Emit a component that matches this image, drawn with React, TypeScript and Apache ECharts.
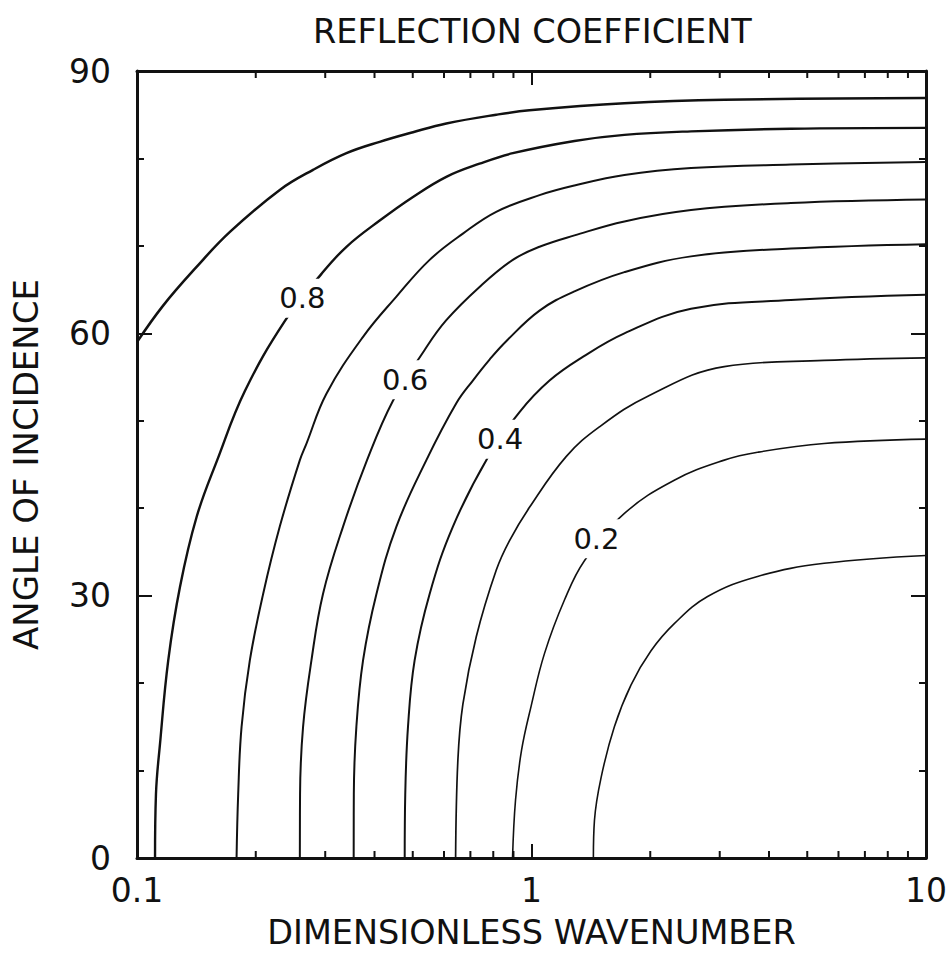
import { useEffect, useRef } from 'react';
import * as echarts from 'echarts';

// Contour levels of the reflection coefficient, each traced as [wavenumber, angle (deg)]
const levels = ['0.9', '0.8', '0.7', '0.6', '0.5', '0.4', '0.3', '0.2', '0.1'];

const r09: [number, number][] = [
  [0.1, 59.0], [0.1166, 63.2], [0.1416, 67.6], [0.172, 71.6], [0.2301, 76.4], [0.2795, 78.7],
  [0.3396, 80.6], [0.4123, 81.9], [0.5007, 83.0], [0.6082, 84.0], [0.814, 85.0], [0.988, 85.5],
  [1.72, 86.3], [3.081, 86.7], [10, 86.9],
];
const r08: [number, number][] = [
  [0.1111, 0], [0.1117, 7.3], [0.1144, 13.1], [0.12, 22.6], [0.1285, 31.0], [0.1416, 39.0],
  [0.1597, 45.5], [0.1877, 53.4], [0.2369, 61.4], [0.2935, 66.8], [0.3396, 69.9], [0.4123, 72.9],
  [0.5007, 75.6], [0.6082, 77.9], [0.7384, 79.4], [0.8967, 80.6], [1.285, 82.0], [1.72, 82.7],
  [2.537, 83.1], [4.545, 83.4], [10, 83.5],
];
const r07: [number, number][] = [
  [0.1788, 0], [0.1805, 7.3], [0.1841, 15.0], [0.1932, 22.6], [0.2088, 30.2], [0.2301, 37.9],
  [0.2587, 45.5], [0.2689, 47.4], [0.3021, 53.1], [0.3741, 59.6], [0.4545, 64.2], [0.5518, 68.4],
  [0.67, 71.4], [0.8138, 73.9], [1.048, 75.8], [1.285, 76.9], [1.72, 78.1], [2.537, 78.9],
  [4.545, 79.3], [10, 79.6],
];
const r06: [number, number][] = [
  [0.2587, 0], [0.259, 7.3], [0.2636, 15.0], [0.2768, 22.6], [0.2961, 30.2], [0.3329, 37.9],
  [0.3829, 45.5], [0.4455, 52.3], [0.5359, 58.1], [0.6082, 61.5], [0.7384, 65.3], [0.8967, 68.4],
  [1.048, 69.9], [1.285, 71.2], [1.72, 72.8], [2.537, 74.1], [4.545, 74.9], [10, 75.3],
];
const r05: [number, number][] = [
  [0.3542, 0], [0.3545, 7.3], [0.3598, 15.0], [0.3741, 22.6], [0.4045, 30.2], [0.4545, 37.9],
  [0.5414, 45.5], [0.6447, 52.0], [0.7101, 54.6], [0.7829, 57.0], [0.8628, 59.1], [1.048, 62.6],
  [1.285, 64.8], [1.72, 67.0], [2.537, 68.8], [4.545, 69.7], [10, 70.2],
];
const r04: [number, number][] = [
  [0.4771, 0], [0.4786, 7.3], [0.4863, 15.0], [0.5055, 22.6], [0.5518, 30.2], [0.6321, 37.9],
  [0.775, 45.8], [0.9325, 51.0], [1.111, 54.6], [1.349, 57.3], [1.72, 60.0],
  [2.537, 62.8], [4.545, 63.8], [10, 64.4],
];
const r03: [number, number][] = [
  [0.6421, 0], [0.6507, 11.2], [0.67, 17.6], [0.7244, 25.3], [0.8138, 32.9], [0.8797, 36.3],
  [0.9884, 40.1], [1.224, 45.9], [1.486, 49.3], [1.989, 52.9], [3.081, 56.2], [5.519, 56.9],
  [10, 57.2],
];
const r02: [number, number][] = [
  [0.8952, 0], [0.9109, 6.6], [0.9434, 12.3], [0.9982, 17.4], [1.079, 23.4], [1.212, 29.5],
  [1.362, 34.0], [1.72, 39.4], [2.301, 43.2], [3.081, 45.5], [3.741, 46.4], [5.519, 47.4],
  [10, 47.9],
];
const r01: [number, number][] = [
  [1.435, 0], [1.444, 4.3], [1.501, 9.2], [1.622, 15.0], [1.788, 19.8], [2.009, 23.7],
  [2.301, 26.8], [2.795, 29.9], [3.741, 32.2], [5.519, 33.7], [10, 34.6],
];
const contours = [r09, r08, r07, r06, r05, r04, r03, r02, r01];
const lineWidths = [2.5, 2.4, 2, 2, 2, 2, 1.7, 1.6, 1.6];

// In-line contour labels
const labelTexts = ['0.8', '0.6', '0.4', '0.2'];
const labelWavenumbers = [0.2624, 0.4783, 0.8322, 1.461];
const labelAngles = [64.0, 54.7, 47.9, 36.5];

// Axis ticks
const angleMin = 0;
const angleMax = 90;
const angleStep = 30;
const wavenumberMin = 0.1;
const wavenumberMax = 10;
const minorWavenumbers = [0.2, 0.3, 0.4, 0.5, 0.6, 0.7, 0.8, 0.9, 2, 3, 4, 5, 6, 7, 8, 9];

const INK = '#111';
const FONT = 'DejaVu Sans';

export default function App() {
  const ref = useRef<HTMLDivElement>(null);

  useEffect(() => {
    if (!ref.current) return;
    const chart = echarts.init(ref.current, undefined, { renderer: 'svg' });

    const xCommon = {
      type: 'log' as const,
      logBase: 10,
      min: wavenumberMin,
      max: wavenumberMax,
      splitLine: { show: false },
      axisLine: { show: true, onZero: false, lineStyle: { color: INK, width: 3 } },
      axisTick: { show: true, inside: true, length: 14, lineStyle: { color: INK, width: 2 } },
    };
    const yCommon = {
      type: 'value' as const,
      min: angleMin,
      max: angleMax,
      interval: angleStep,
      splitLine: { show: false },
      axisLine: { show: true, onZero: false, lineStyle: { color: INK, width: 3 } },
      axisTick: { show: true, inside: true, length: 15, lineStyle: { color: INK, width: 2 } },
      minorTick: { show: true, splitNumber: 3, length: 7, lineStyle: { color: INK, width: 2 } },
    };

    const contourSeries = contours.map((pts, i) => ({
      name: levels[i],
      type: 'line' as const,
      data: pts,
      showSymbol: false,
      smooth: 0.4,
      lineStyle: { color: INK, width: lineWidths[i] },
      silent: true,
      z: 2,
    }));

    chart.setOption({
      animation: false,
      backgroundColor: '#fff',
      textStyle: { fontFamily: FONT, color: INK },
      title: {
        text: 'REFLECTION COEFFICIENT',
        left: 313,
        top: 14,
        padding: 0,
        textStyle: { fontFamily: FONT, fontSize: 33.5, fontWeight: 'normal', color: INK },
      },
      grid: { left: 137, right: 23, top: 71, bottom: 100 },
      xAxis: [
        {
          ...xCommon,
          position: 'bottom',
          name: 'DIMENSIONLESS WAVENUMBER',
          nameLocation: 'middle',
          nameGap: 57,
          nameTextStyle: { fontFamily: FONT, fontSize: 33.5, color: INK },
          axisLabel: {
            show: true,
            margin: 16,
            fontFamily: FONT,
            fontSize: 33,
            color: INK,
            formatter: (v: number) => (v < 1 ? v.toFixed(1) : String(Math.round(v))),
          },
        },
        { ...xCommon, position: 'top', axisLabel: { show: false } },
      ],
      yAxis: [
        {
          ...yCommon,
          position: 'left',
          name: 'ANGLE OF INCIDENCE',
          nameLocation: 'middle',
          nameGap: 94,
          nameTextStyle: { fontFamily: FONT, fontSize: 34, color: INK },
          axisLabel: { show: true, margin: 26, fontFamily: FONT, fontSize: 33, color: INK },
        },
        { ...yCommon, position: 'right', axisLabel: { show: false } },
      ],
      series: [
        ...contourSeries,
        {
          name: 'minor ticks',
          type: 'custom',
          silent: true,
          z: 5,
          data: minorWavenumbers.map((v) => [v, angleMin]),
          renderItem: (_params: any, api: any) => {
            const v = api.value(0);
            const b = api.coord([v, angleMin]);
            const t = api.coord([v, angleMax]);
            const style = { stroke: INK, lineWidth: 2 };
            return {
              type: 'group',
              children: [
                { type: 'line', shape: { x1: b[0], y1: b[1], x2: b[0], y2: b[1] - 7 }, style },
                { type: 'line', shape: { x1: t[0], y1: t[1], x2: t[0], y2: t[1] + 7 }, style },
              ],
            };
          },
        },
        {
          name: 'labels',
          type: 'scatter',
          symbolSize: 0,
          silent: true,
          z: 10,
          itemStyle: { opacity: 1 },
          data: labelTexts.map((t, i) => [labelWavenumbers[i], labelAngles[i], t]),
          label: {
            show: true,
            position: 'inside',
            formatter: (p: any) => p.data[2],
            fontFamily: FONT,
            fontSize: 29,
            color: INK,
            opacity: 1,
            backgroundColor: '#fff',
            padding: [5, 4],
          },
        },
      ],
    });

    return () => chart.dispose();
  }, []);

  return (
    <div
      ref={ref}
      style={{ position: 'absolute', left: 0, top: 0, width: 950, height: 958, background: '#fff' }}
    />
  );
}
